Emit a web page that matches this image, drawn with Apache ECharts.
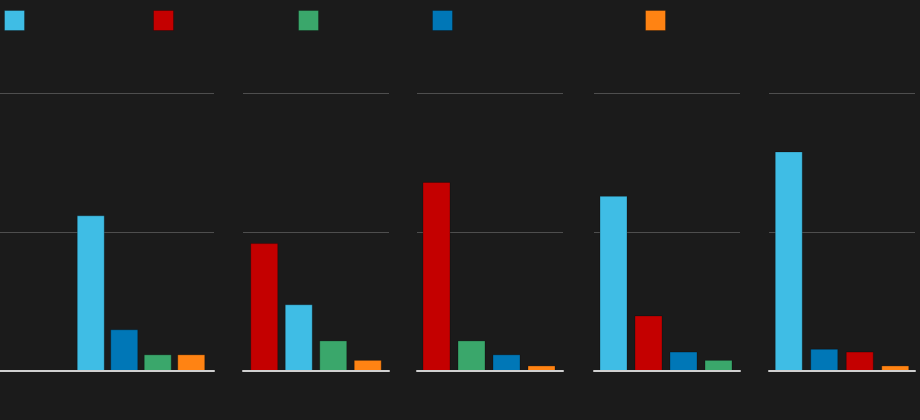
<!DOCTYPE html>
<html>
<head>
<meta charset="utf-8">
<script src="https://cdn.jsdelivr.net/npm/echarts@6/dist/echarts.min.js"></script>
<style>
html,body{margin:0;padding:0;background:#1b1b1b;}
#chart{width:920px;height:420px;}
</style>
</head>
<body>
<div id="chart"></div>
<script>
// ---- data ----
const seriesNames = ['Cyan', 'Red', 'Green', 'Blue', 'Orange'];
const seriesColors = ['#3fbde5', '#c40000', '#3aa76b', '#0077b7', '#ff8313'];

const panel1Names = ['Cyan', 'Blue', 'Green', 'Orange'];
const panel1Values = [11.2, 3.0, 1.2, 1.2];
const panel2Names = ['Red', 'Cyan', 'Green', 'Orange'];
const panel2Values = [9.2, 4.8, 2.2, 0.8];
const panel3Names = ['Red', 'Green', 'Blue', 'Orange'];
const panel3Values = [13.6, 2.2, 1.2, 0.4];
const panel4Names = ['Cyan', 'Red', 'Blue', 'Green'];
const panel4Values = [12.6, 4.0, 1.4, 0.8];
const panel5Names = ['Cyan', 'Blue', 'Red', 'Orange'];
const panel5Values = [15.8, 1.6, 1.4, 0.4];

const yMin = 0, yMax = 20, yInterval = 10;

// ---- layout ----
const panels = [
  {names: panel1Names, values: panel1Values, frame: [0, 214],   bars: [74, 134]},
  {names: panel2Names, values: panel2Values, frame: [243, 146], bars: [247, 138]},
  {names: panel3Names, values: panel3Values, frame: [417, 146], bars: [419, 140]},
  {names: panel4Names, values: panel4Values, frame: [594, 146], bars: [596, 140]},
  {names: panel5Names, values: panel5Values, frame: [769, 146], bars: [771, 142]}
];
const legendLefts = [4, 153, 298, 432, 645];
const TOP = 93, HEIGHT = 278;

const grid = [], xAxis = [], yAxis = [], series = [];
panels.forEach((p, i) => {
  const fi = grid.length;
  grid.push({left: p.frame[0], width: p.frame[1], top: TOP, height: HEIGHT});
  xAxis.push({gridIndex: fi, type: 'category', data: [''], z: 10,
    axisLine: {show: true, lineStyle: {color: '#d0d0d0', width: 2}},
    axisTick: {show: false}, axisLabel: {show: false}, splitLine: {show: false}});
  yAxis.push({gridIndex: fi, type: 'value', min: yMin, max: yMax, interval: yInterval,
    axisLine: {show: false}, axisTick: {show: false}, axisLabel: {show: false},
    splitLine: {show: true, lineStyle: {color: '#4e4e4e', width: 1}}});
  const bi = grid.length;
  grid.push({left: p.bars[0], width: p.bars[1], top: TOP, height: HEIGHT});
  xAxis.push({gridIndex: bi, type: 'category', data: p.names,
    axisLine: {show: false}, axisTick: {show: false}, axisLabel: {show: false}, splitLine: {show: false}});
  yAxis.push({gridIndex: bi, type: 'value', min: yMin, max: yMax, interval: yInterval,
    axisLine: {show: false}, axisTick: {show: false}, axisLabel: {show: false}, splitLine: {show: false}});
  p.names.forEach((nm) => {
    const ci = seriesNames.indexOf(nm);
    series.push({
      type: 'bar', name: nm, xAxisIndex: bi, yAxisIndex: bi, stack: 'p' + i,
      barWidth: 28,
      itemStyle: {color: seriesColors[ci], borderColor: 'rgba(0,0,0,0.25)', borderWidth: 1},
      data: p.names.map((c, k) => c === nm ? p.values[k] : '-')
    });
  });
});

const legend = seriesNames.map((nm, i) => ({
  data: [nm], left: legendLefts[i], top: 10, padding: 0, itemWidth: 20, itemHeight: 20,
  icon: 'rect', selectedMode: false, formatter: () => '', textStyle: {color: '#1b1b1b'},
  itemStyle: {borderColor: 'rgba(0,0,0,0.25)', borderWidth: 1}
}));

const chart = echarts.init(document.getElementById('chart'), null, {renderer: 'canvas'});
chart.setOption({
  backgroundColor: '#1b1b1b',
  animation: false,
  legend, grid, xAxis, yAxis, series
});
</script>
</body>
</html>
